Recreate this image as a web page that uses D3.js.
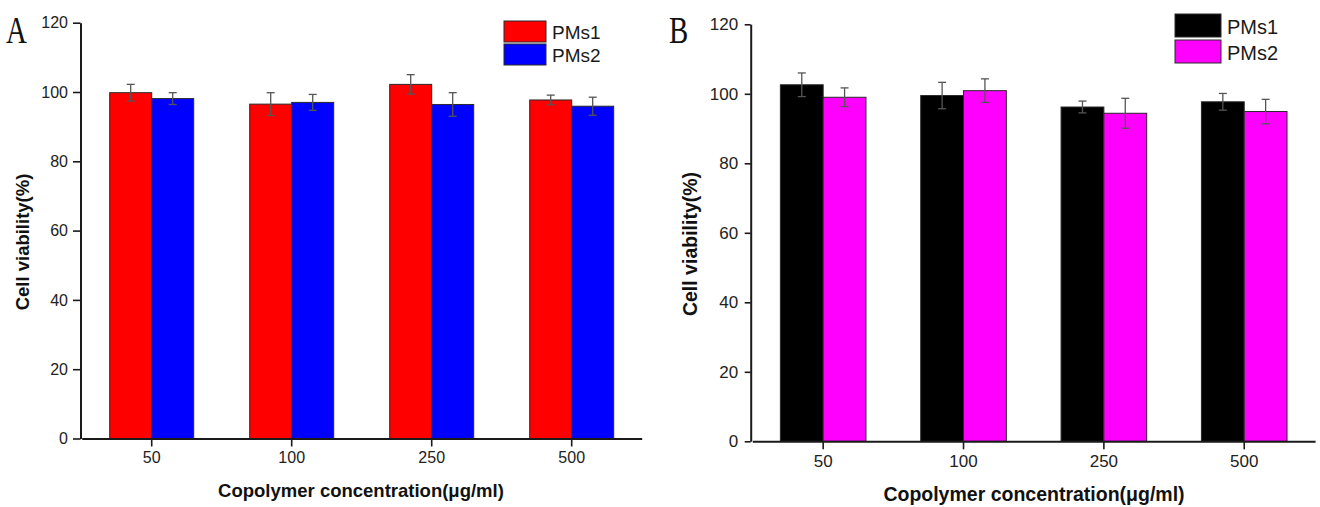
<!DOCTYPE html>
<html>
<head>
<meta charset="utf-8">
<script src="https://cdn.jsdelivr.net/npm/d3@7"></script>
<style>
    body { margin: 0; background: #fff; }
    svg { display: block; }
</style>
</head>
<body>
<svg id="chart" width="1320" height="507"></svg>
<script>
// values (cell viability, %)
const concentrations = ["50", "100", "250", "500"];
const seriesNames = ["PMs1", "PMs2"];
const yTicks = [0, 20, 40, 60, 80, 100, 120];

const aPMs1 = [99.8, 96.5, 102.2, 97.7];
const aPMs1Err = [2.4, 3.3, 2.8, 1.4];
const aPMs2 = [98.1, 97.0, 96.4, 95.9];
const aPMs2Err = [1.7, 2.3, 3.4, 2.6];

const bPMs1 = [102.6, 99.5, 96.2, 97.7];
const bPMs1Err = [3.4, 3.8, 1.7, 2.4];
const bPMs2 = [99.0, 100.9, 94.4, 94.9];
const bPMs2Err = [2.7, 3.4, 4.3, 3.5];

const FONT = "'Liberation Sans', Arial, Helvetica, sans-serif";

class BarPanel {
    constructor(svg, opts) {
        this.svg = svg;
        this.opts = opts;
    }

    initialize() {
        const o = this.opts;
        this.g = this.svg.append("g");
        this.xScale = d3.scaleBand()
            .domain(concentrations)
            .range(o.xRange)
            .paddingInner(o.padInner)
            .paddingOuter(0.2);
        this.subScale = d3.scaleBand()
            .domain(seriesNames)
            .range([0, this.xScale.bandwidth()]);
        this.yScale = d3.scaleLinear().domain([0, 120]).range(o.yRange);
    }

    update(series, errors) {
        const o = this.opts;
        const rows = [];
        concentrations.forEach((c, i) => {
            seriesNames.forEach((s, j) => {
                rows.push({ c: c, s: s, v: series[j][i], e: errors[j][i], color: o.colors[j] });
            });
        });

        const bx = d => this.xScale(d.c) + this.subScale(d.s);
        const bw = this.subScale.bandwidth();

        this.g.selectAll("rect.bar")
            .data(rows)
            .join("rect")
            .attr("class", "bar")
            .attr("x", bx)
            .attr("y", d => this.yScale(d.v))
            .attr("width", bw)
            .attr("height", d => this.yScale(0) - this.yScale(d.v))
            .attr("fill", d => d.color)
            .attr("stroke", "#2a2a2a")
            .attr("stroke-width", 1);

        // error bars
        const eb = this.g.selectAll("g.err")
            .data(rows)
            .join("g")
            .attr("class", "err")
            .attr("stroke", "#555")
            .attr("stroke-width", 1.3);
        const cap = 4;
        eb.append("line")
            .attr("x1", d => bx(d) + bw / 2).attr("x2", d => bx(d) + bw / 2)
            .attr("y1", d => this.yScale(d.v + d.e)).attr("y2", d => this.yScale(d.v - d.e));
        eb.append("line")
            .attr("x1", d => bx(d) + bw / 2 - cap).attr("x2", d => bx(d) + bw / 2 + cap)
            .attr("y1", d => this.yScale(d.v + d.e)).attr("y2", d => this.yScale(d.v + d.e));
        eb.append("line")
            .attr("x1", d => bx(d) + bw / 2 - cap).attr("x2", d => bx(d) + bw / 2 + cap)
            .attr("y1", d => this.yScale(d.v - d.e)).attr("y2", d => this.yScale(d.v - d.e));

        // axes
        const xAxis = this.g.append("g")
            .attr("transform", `translate(0, ${this.yScale(0)})`)
            .call(d3.axisBottom(this.xScale).tickSize(8).tickSizeOuter(0).tickPadding(o.xTickPad));
        const yAxis = this.g.append("g")
            .attr("transform", `translate(${o.yAxisX}, 0)`)
            .call(d3.axisLeft(this.yScale).tickValues(yTicks).tickSize(o.yTickLen).tickSizeOuter(0).tickPadding(o.yTickPad));

        [xAxis, yAxis].forEach(ax => {
            ax.select(".domain").attr("stroke", "#1a1a1a").attr("stroke-width", 2);
            ax.selectAll(".tick line").attr("stroke", "#1a1a1a").attr("stroke-width", 1.6);
            ax.selectAll(".tick text")
                .attr("fill", "#222")
                .style("font-family", FONT)
                .style("font-size", o.tickFont + "px");
        });

        // axis titles
        this.g.append("text")
            .attr("x", o.xTitle[0]).attr("y", o.xTitle[1])
            .attr("text-anchor", "middle")
            .style("font-family", FONT).style("font-weight", "bold")
            .style("font-size", o.xTitleFont + "px")
            .attr("fill", "#111")
            .text("Copolymer concentration(\u03bcg/ml)");
        this.g.append("text")
            .attr("transform", `translate(${o.yTitle[0]}, ${o.yTitle[1]}) rotate(-90)`)
            .attr("text-anchor", "middle")
            .style("font-family", FONT).style("font-weight", "bold")
            .style("font-size", o.yTitleFont + "px")
            .attr("fill", "#111")
            .text("Cell viability(%)");

        // panel letter
        this.g.append("text")
            .attr("transform", `translate(${o.letterPos[0]}, ${o.letterPos[1]}) scale(0.78, 1)`)
            .style("font-family", "'Liberation Serif', 'Times New Roman', serif")
            .style("font-size", "37px")
            .attr("fill", "#111")
            .text(o.letter);

        // legend
        const lg = this.g.append("g")
            .attr("transform", `translate(${o.legend[0]}, ${o.legend[1]})`);
        seriesNames.forEach((s, j) => {
            lg.append("rect")
                .attr("x", 0).attr("y", j * o.legendStep)
                .attr("width", o.swatch[0]).attr("height", o.swatch[1])
                .attr("fill", o.colors[j])
                .attr("stroke", "#2a2a2a").attr("stroke-width", 1);
            lg.append("text")
                .attr("x", o.swatch[0] + 6)
                .attr("y", j * o.legendStep + o.swatch[1] - 3)
                .style("font-family", FONT)
                .style("font-size", o.legendFont + "px")
                .attr("fill", "#1a1a1a")
                .text(s);
        });
    }
}

const svg = d3.select("#chart");

const panelA = new BarPanel(svg, {
    xRange: [81.7, 641.7], padInner: 0.4, yRange: [438.5, 22.7],
    yAxisX: 80.5, yTickLen: 7.5, yTickPad: 5, xTickPad: 5, tickFont: 16,
    colors: ["#ff0000", "#0000ff"],
    xTitle: [361, 497], xTitleFont: 18.5,
    yTitle: [29, 242], yTitleFont: 18.5,
    letter: "A", letterPos: [6, 43],
    legend: [504, 21], legendStep: 23, swatch: [42, 21], legendFont: 19
});
panelA.initialize();
panelA.update([aPMs1, aPMs2], [aPMs1Err, aPMs2Err]);

const panelB = new BarPanel(svg, {
    xRange: [752.3, 1315.1], padInner: 0.39, yRange: [441.3, 24.3],
    yAxisX: 750.7, yTickLen: 6, yTickPad: 6.5, xTickPad: 6, tickFont: 17,
    colors: ["#000000", "#ff00ff"],
    xTitle: [1034, 501], xTitleFont: 19.5,
    yTitle: [697, 244], yTitleFont: 19.5,
    letter: "B", letterPos: [669, 43],
    legend: [1175, 14], legendStep: 26, swatch: [46, 23], legendFont: 20
});
panelB.initialize();
panelB.update([bPMs1, bPMs2], [bPMs1Err, bPMs2Err]);
</script>
</body>
</html>
